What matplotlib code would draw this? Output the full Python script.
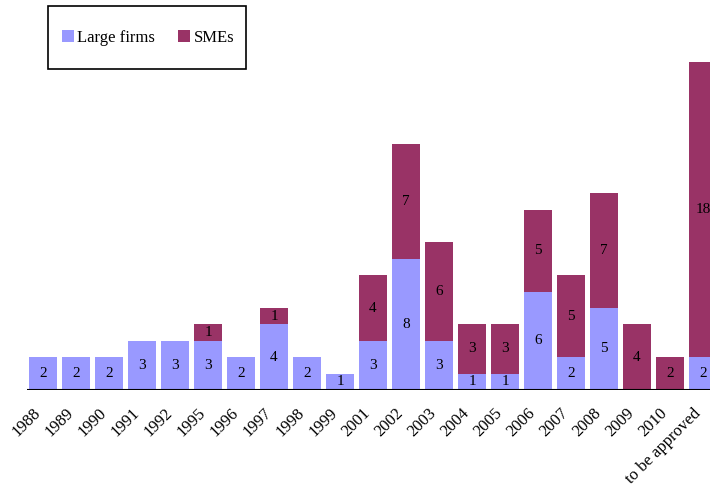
import matplotlib.pyplot as plt
from matplotlib.patches import Rectangle
from matplotlib.transforms import ScaledTranslation
import numpy as np

plt.rcParams['font.family'] = ['Liberation Serif', 'DejaVu Serif']

# categories and counts per year
years = ["1988", "1989", "1990", "1991", "1992", "1995", "1996", "1997", "1998", "1999",
         "2001", "2002", "2003", "2004", "2005", "2006", "2007", "2008", "2009", "2010",
         "to be approved"]
large = [2, 2, 2, 3, 3, 3, 2, 4, 2, 1, 3, 8, 3, 1, 1, 6, 2, 5, 0, 0, 2]
smes = [0, 0, 0, 0, 0, 1, 0, 1, 0, 0, 4, 7, 6, 3, 3, 5, 5, 7, 4, 2, 18]

c_large = "#9999FF"
c_sme = "#993366"

fig = plt.figure(figsize=(7.1, 4.91), dpi=100)
ax = fig.add_axes([26.5 / 710, 101 / 491, 693 / 710, 328 / 491])

x = np.arange(len(years))
ax.bar(x, large, width=0.85, color=c_large, label="Large firms")
ax.bar(x, smes, width=0.85, bottom=large, color=c_sme, label="SMEs")

# value labels in the middle of each segment
for i in range(len(years)):
    if large[i] > 0:
        ax.text(x[i], large[i] / 2, str(large[i]), ha="center", va="center", fontsize=11)
    if smes[i] > 0:
        ax.text(x[i], large[i] + smes[i] / 2, str(smes[i]), ha="center", va="center", fontsize=11)

ax.set_xlim(-0.5, len(years) - 0.5)
ax.set_ylim(0, 20)
ax.axhline(0, color="black", lw=1.5)
for s in ax.spines.values():
    s.set_visible(False)
ax.set_yticks([])
ax.set_xticks(x)
ax.set_xticklabels(years, rotation=45, ha="right", va="center",
                   rotation_mode="anchor", fontsize=12)
ax.tick_params(axis="x", length=0, pad=15)
shift = ScaledTranslation(-5 / 100, 0, fig.dpi_scale_trans)
for lbl in ax.get_xticklabels():
    lbl.set_transform(lbl.get_transform() + shift)

# legend with a plain box around it
fig.legend(loc="center left", bbox_to_anchor=(62 / 710, 1 - 38 / 491), ncol=2,
           fontsize=12, frameon=False, handlelength=0.72, handleheight=0.72,
           handletextpad=0.2, columnspacing=1.38, borderpad=0, borderaxespad=0)
fig.add_artist(Rectangle((48 / 710, 1 - 69 / 491), 198 / 710, 63 / 491,
                         transform=fig.transFigure, fill=False,
                         edgecolor="black", lw=1.2))

fig.savefig("out.png", dpi=100)
